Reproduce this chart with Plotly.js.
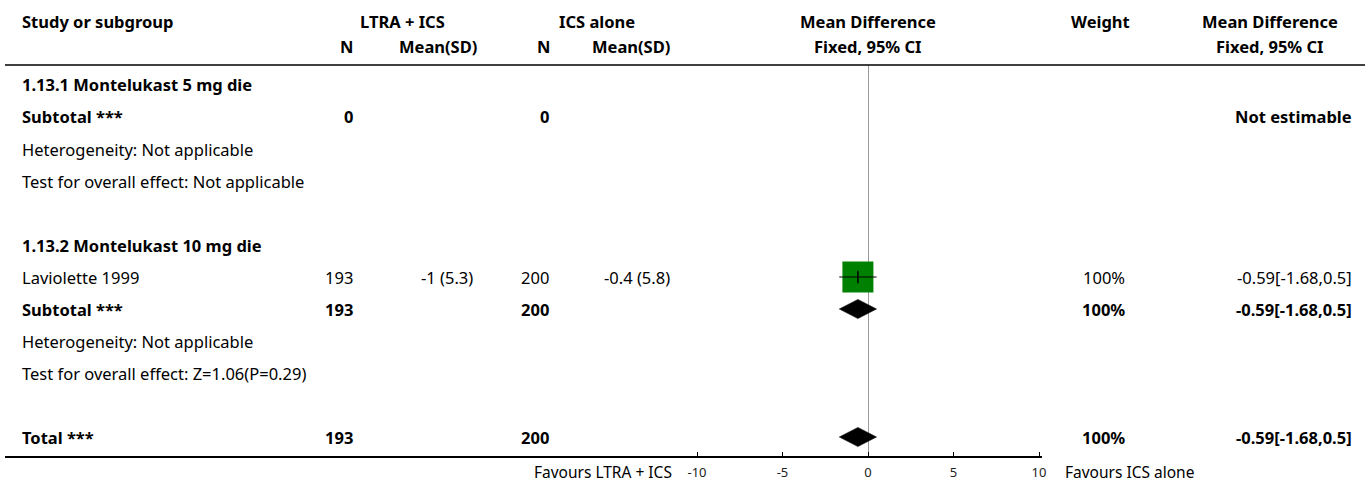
<!DOCTYPE html>
<html>
<head>
<meta charset="utf-8">
<script src="https://cdn.plot.ly/plotly-3.0.1.min.js"></script>
<style>html,body{margin:0;padding:0;background:#fff;}#chart{width:1370px;height:485px;}</style>
</head>
<body>
<div id="chart"></div>
<script>
// ---- data ----
const rowLabels = ['1.13.1 Montelukast 5 mg die','Subtotal ***','Heterogeneity: Not applicable','Test for overall effect: Not applicable','','1.13.2 Montelukast 10 mg die','Laviolette 1999','Subtotal ***','Heterogeneity: Not applicable','Test for overall effect: Z=1.06(P=0.29)','','Total ***'];
const rowBold   = [1,1,0,0,0,1,0,1,0,0,0,1];
const nTreat    = ['','0','','','','','193','193','','','','193'];
const meanTreat = ['','','','','','','-1 (5.3)','','','','',''];
const nCtrl     = ['','0','','','','','200','200','','','','200'];
const meanCtrl  = ['','','','','','','-0.4 (5.8)','','','','',''];
const weights   = ['','','','','','','100%','100%','','','','100%'];
const ciText    = ['','Not estimable','','','','','-0.59[-1.68,0.5]','-0.59[-1.68,0.5]','','','','-0.59[-1.68,0.5]'];
const studyRows = [6];
const studyEst  = [-0.59];
const studyLo   = [-1.68];
const studyHi   = [0.5];
const diamondRows = [7, 11];
const diamondEst  = [-0.59, -0.59];
const diamondLo   = [-1.68, -1.68];
const diamondHi   = [0.5, 0.5];
const tickVals = [-10,-5,0,5,10];
const favLeft = 'Favours LTRA + ICS';
const favRight = 'Favours ICS alone';
const header1 = ['Study or subgroup','LTRA + ICS','ICS alone','Mean Difference','Weight','Mean Difference'];
const header2 = ['N','Mean(SD)','N','Mean(SD)','Fixed, 95% CI','Fixed, 95% CI'];

// ---- layout helpers ----
const W = 1370, H = 485;
const FONT = 'Noto Sans, sans-serif';
const FS = 16.5;
const px = v => v / W;
const py = p => 1 - p / H;
const ROW0 = 85, ROWH = 32;
const pxToRow = p => (p - ROW0) / ROWH;

const ann = [];
function addText(text, xPix, yVal, anchor, bold, yref, size) {
  if (!text) return;
  ann.push({
    xref: 'paper', yref: yref || 'y', x: px(xPix), y: yVal,
    text: bold ? '<b>' + text + '</b>' : text,
    showarrow: false, xanchor: anchor, yanchor: 'middle',
    xshift: anchor === 'left' ? -2 : (anchor === 'right' ? 2 : 0),
    font: {family: FONT, size: size || FS, color: '#000'}
  });
}

// headers
const h1X = [22, 402, 597, 868, 1100, 1270];
const h1A = ['left','center','center','center','center','center'];
header1.forEach((t,i) => addText(t, h1X[i], py(22), h1A[i], true, 'paper'));
const h2X = [346, 438, 543, 631, 868, 1270];
header2.forEach((t,i) => addText(t, h2X[i], py(46), 'center', true, 'paper'));

// rows
rowLabels.forEach((t,k) => {
  const b = !!rowBold[k];
  addText(t, 22, k, 'left', b);
  addText(nTreat[k], 353, k, 'right', b);
  addText(meanTreat[k], 473, k, 'right', b);
  addText(nCtrl[k], 549, k, 'right', b);
  addText(meanCtrl[k], 670, k, 'right', b);
  addText(weights[k], 1125, k, 'right', b);
  addText(ciText[k], 1352, k, 'right', b);
});

// favours labels
addText(favLeft, 672, py(472), 'right', false, 'paper', 15.5);
addText(favRight, 1065, py(472), 'left', false, 'paper', 15.5);

// ---- traces ----
const traces = [];
traces.push({
  type: 'scatter', mode: 'markers', x: studyEst, y: studyRows,
  marker: {symbol: 'square', size: 31, color: '#008000', line: {width: 0}},
  hoverinfo: 'skip', cliponaxis: false
});
studyRows.forEach((r,i) => {
  traces.push({
    type: 'scatter', mode: 'lines', x: [studyLo[i], studyHi[i]], y: [r, r],
    line: {color: '#000', width: 1}, hoverinfo: 'skip', cliponaxis: false
  });
});
traces.push({
  type: 'scatter', mode: 'markers', x: studyEst, y: studyRows,
  marker: {symbol: 'line-ns', size: 9, line: {color: '#000', width: 1.5}},
  hoverinfo: 'skip', cliponaxis: false
});
const dh = 0.3;
diamondRows.forEach((r,i) => {
  traces.push({
    type: 'scatter', mode: 'lines',
    x: [diamondLo[i], diamondEst[i], diamondHi[i], diamondEst[i], diamondLo[i]],
    y: [r, r - dh, r, r + dh, r],
    fill: 'toself', fillcolor: '#000', line: {color: '#000', width: 0.5},
    hoverinfo: 'skip', cliponaxis: false
  });
});
// helper trace so the tick-mark axis is drawn
traces.push({type: 'scatter', mode: 'markers', x: [0], y: [0], xaxis: 'x2', yaxis: 'y',
  marker: {opacity: 0, size: 1}, hoverinfo: 'skip', showlegend: false});

const yTopPx = 65, yBotPx = 457;
const xDom = [px(697), px(1039)];
const layout = {
  width: W, height: H,
  margin: {l: 0, r: 0, t: 0, b: 0},
  paper_bgcolor: '#fff', plot_bgcolor: 'rgba(0,0,0,0)',
  showlegend: false,
  xaxis: {
    domain: xDom, range: [-10, 10], fixedrange: true,
    tickvals: tickVals, ticktext: tickVals.map(String),
    ticks: '', showgrid: false, showline: false, ticklabelstandoff: 6,
    zeroline: true, zerolinecolor: '#999', zerolinewidth: 1,
    tickfont: {family: FONT, size: 13, color: '#222'}
  },
  xaxis2: {
    domain: xDom, range: [-10, 10], fixedrange: true, overlaying: 'x',
    anchor: 'free', position: py(yBotPx), side: 'top',
    tickvals: tickVals, ticks: 'outside', ticklen: 5, tickwidth: 1, tickcolor: '#000',
    showticklabels: false, showgrid: false, showline: false, zeroline: false
  },
  yaxis: {
    domain: [py(yBotPx), py(yTopPx)], range: [pxToRow(yBotPx), pxToRow(yTopPx)],
    showgrid: false, showline: false, zeroline: false, showticklabels: false, ticks: '', fixedrange: true
  },
  shapes: [
    {type: 'line', xref: 'paper', yref: 'paper', x0: px(5), x1: px(1365), y0: py(yTopPx), y1: py(yTopPx), line: {color: '#000', width: 1.5}},
    {type: 'line', xref: 'paper', yref: 'paper', x0: px(5), x1: px(1042), y0: py(yBotPx), y1: py(yBotPx), line: {color: '#000', width: 2}}
  ],
  annotations: ann
};

Plotly.newPlot('chart', traces, layout, {staticPlot: true, displayModeBar: false});
</script>
</body>
</html>
